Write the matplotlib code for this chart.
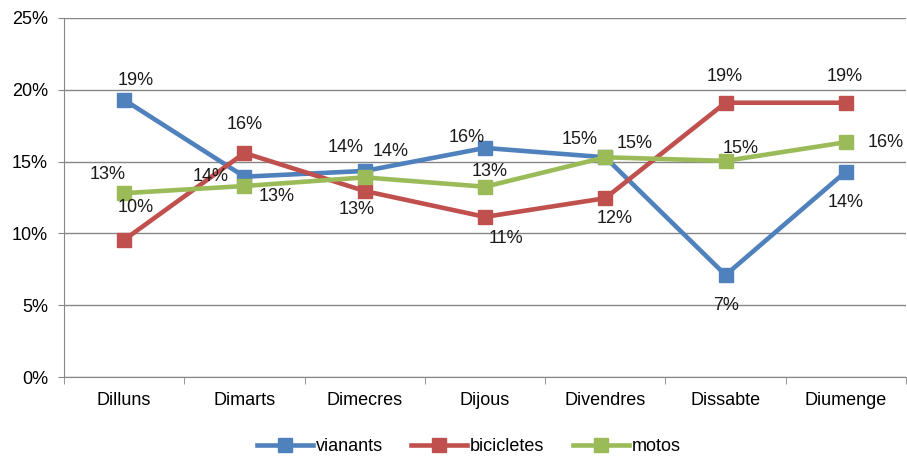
import matplotlib.pyplot as plt
from matplotlib.ticker import FuncFormatter, FixedLocator

plt.rcParams["font.family"] = ["Liberation Sans", "DejaVu Sans"]

days = ["Dilluns", "Dimarts", "Dimecres", "Dijous", "Divendres", "Dissabte", "Diumenge"]
vianants = [19.3, 13.95, 14.35, 15.95, 15.3, 7.1, 14.3]
bicicletes = [9.55, 15.6, 12.95, 11.15, 12.45, 19.1, 19.1]
motos = [12.8, 13.3, 13.9, 13.25, 15.3, 15.05, 16.35]

SERIES = [
    ("vianants", vianants, "#4F81BD"),
    ("bicicletes", bicicletes, "#C0504D"),
    ("motos", motos, "#9BBB59"),
]

# label offsets in points (dx, dy), per series and day
OFFSETS = {
    "vianants": [(8, 14), (-24.5, 0), (18.7, 13.7), (-13, 7.2), (-18.7, 13), (0, -21.6), (0, -22.3)],
    "bicicletes": [(8, 23), (0, 20.5), (-5.8, -13), (15, -15.8), (6.5, -14.4), (-0.7, 19), (-0.7, 19)],
    "motos": [(-12.2, 13.7), (23, -7.9), (-13.7, 21.6), (3.6, 10.8), (20.9, 10), (10.8, 8.6), (28.8, 0)],
}

fig = plt.figure(figsize=(9.07, 4.57), dpi=100)
ax = fig.add_axes([64 / 907, 1 - 377 / 457, 842 / 907, 359 / 457])

x = list(range(len(days)))
for name, vals, color in SERIES:
    ax.plot(x, vals, color=color, lw=3.3, marker="s", ms=10,
            label=name, zorder=3, solid_joinstyle="round")
    for i, v in enumerate(vals):
        dx, dy = OFFSETS[name][i]
        ax.annotate(f"{round(v):.0f}%", (i, v), xytext=(dx, dy),
                    textcoords="offset points", ha="center", va="center",
                    fontsize=13, color="#1a1a1a", zorder=5)

grid_c = "#868686"
ax.set_xlim(-0.5, len(days) - 0.5)
ax.set_ylim(0, 25)
ax.set_yticks(range(0, 26, 5))
ax.yaxis.set_major_formatter(FuncFormatter(lambda v, p: f"{v:.0f}%"))
ax.grid(axis="y", color=grid_c, lw=1.0, zorder=0)
ax.set_axisbelow(True)

ax.set_xticks(x)
ax.set_xticklabels(days, fontsize=13)
ax.xaxis.set_minor_locator(FixedLocator([i - 0.5 for i in range(len(days) + 1)]))
ax.tick_params(axis="x", which="major", length=0, pad=11)
ax.tick_params(axis="x", which="minor", length=5, color=grid_c, direction="out")
ax.tick_params(axis="y", length=4.5, color=grid_c, labelsize=13, pad=7)

for sp in ("top", "right"):
    ax.spines[sp].set_visible(False)
ax.spines["left"].set_color(grid_c)
ax.spines["bottom"].set_color(grid_c)

fig.legend(loc="lower center", bbox_to_anchor=(0.517, -0.032), ncol=3,
           frameon=False, fontsize=13, handlelength=3.1, handletextpad=0.15,
           columnspacing=1.6)

fig.savefig("out.png", dpi=100, facecolor="white")
